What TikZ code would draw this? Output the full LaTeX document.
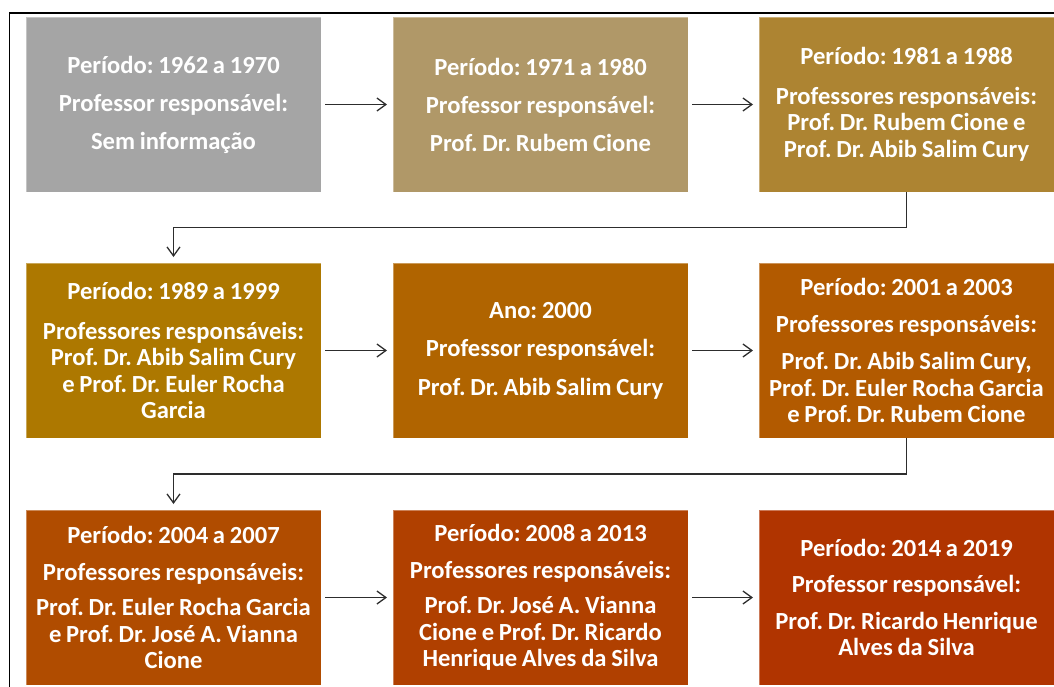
\documentclass[tikz,border=0pt]{standalone}
\usepackage{fontspec}
\setmainfont{Carlito}[WordSpace=0.85]
\usetikzlibrary{arrows.meta,calc}
\frenchspacing

\definecolor{c1}{RGB}{165,165,165}
\definecolor{c2}{RGB}{176,152,104}
\definecolor{c3}{RGB}{173,132,50}
\definecolor{c4}{RGB}{173,120,0}
\definecolor{c5}{RGB}{176,100,0}
\definecolor{c6}{RGB}{178,90,0}
\definecolor{c7}{RGB}{176,76,0}
\definecolor{c8}{RGB}{176,64,0}
\definecolor{c9}{RGB}{176,52,0}
\definecolor{linegray}{RGB}{45,45,45}

\tikzset{
  period/.style={fill=#1, draw=white, draw opacity=0.35, line width=0.8pt,
    minimum width=295pt, minimum height=175pt, inner sep=0pt, outer sep=0pt,
    anchor=north west, text=white, align=center,
    font=\bfseries\fontsize{24.6}{26.5}\selectfont},
  flow/.style={draw=linegray, line width=1.3pt,
    -{Straight Barb[length=9pt,width=13pt,line width=1.3pt]}},
}

\begin{document}
\begin{tikzpicture}[x=1pt,y=-1pt]
\useasboundingbox (0,0) rectangle (1054,686);
\clip (0,0) rectangle (1054,686);

% outer frame (only its top and left sides fall inside the page)
\draw[line width=1.6pt] (9.5,13) rectangle (1080,720);

% first row
\node[period=c1] (p1) at (26,17)
  {Período: 1962 a 1970\\[11.5pt]Professor responsável:\\[11.5pt]Sem informação};
\node[period=c2] (p2) at (393,17)
  {Período: 1971 a 1980\\[11.5pt]Professor responsável:\\[11.5pt]Prof. Dr. Rubem Cione};
\node[period=c3] (p3) at (759,17)
  {Período: 1981 a 1988\\[13pt]Professores responsáveis:\\Prof. Dr. Rubem Cione e\\Prof. Dr. Abib Salim Cury};

% second row
\node[period=c4] (p4) at (26,263)
  {Período: 1989 a 1999\\[13pt]Professores responsáveis:\\Prof. Dr. Abib Salim Cury\\e Prof. Dr. Euler Rocha\\Garcia};
\node[period=c5] (p5) at (393,263)
  {Ano: 2000\\[12pt]Professor responsável:\\[12pt]Prof. Dr. Abib Salim Cury};
\node[period=c6] (p6) at (759,263)
  {Período: 2001 a 2003\\[10.5pt]Professores responsáveis:\\[10.5pt]Prof. Dr. Abib Salim Cury,\\Prof. Dr. Euler Rocha Garcia\\e Prof. Dr. Rubem Cione};

% third row
\node[period=c7] (p7) at (26,510)
  {Período: 2004 a 2007\\[10.5pt]Professores responsáveis:\\[9pt]Prof. Dr. Euler Rocha Garcia\\e Prof. Dr. José A. Vianna\\Cione};
\node[period=c8] (p8) at (393,510)
  {Período: 2008 a 2013\\[10.5pt]Professores responsáveis:\\[9pt]Prof. Dr. José A. Vianna\\Cione e Prof. Dr. Ricardo\\Henrique Alves da Silva};
\node[period=c9] (p9) at (759,510)
  {Período: 2014 a 2019\\[10pt]Professor responsável:\\[10pt]Prof. Dr. Ricardo Henrique\\Alves da Silva};

% arrows within each row
\foreach \a/\b in {p1/p2,p2/p3,p4/p5,p5/p6,p7/p8,p8/p9}
  \draw[flow, shorten <=4pt, shorten >=6pt] (\a) -- (\b);

% elbow arrows from the end of a row to the start of the next
\draw[flow, shorten >=6pt] (p3.south) |- ($(p3.south)!0.5!(p4.north)$) -| (p4.north);
\draw[flow, shorten >=6pt] (p6.south) |- ($(p6.south)!0.5!(p7.north)$) -| (p7.north);
\end{tikzpicture}
\end{document}
